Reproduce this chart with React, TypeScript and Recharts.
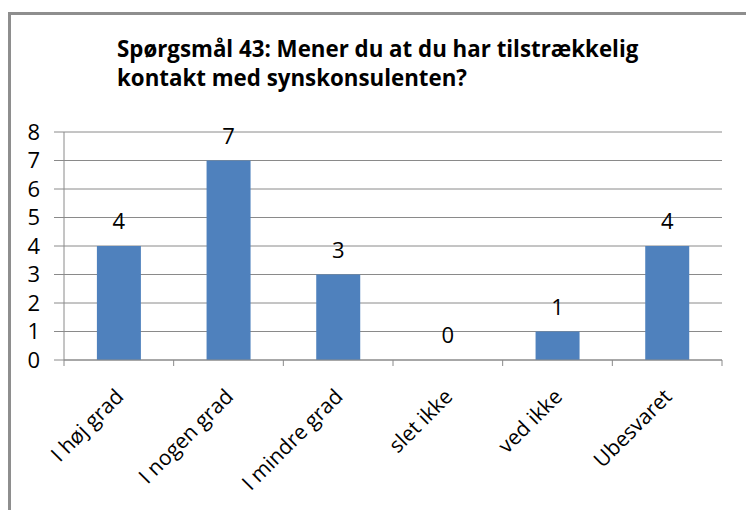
import React from "react";
import { Bar, BarChart, CartesianGrid, LabelList, XAxis, YAxis } from "recharts";

// Spørgsmål 43 – svarfordeling
const categories = ["I høj grad", "I nogen grad", "I mindre grad", "slet ikke", "ved ikke", "Ubesvaret"];
const counts = [4, 7, 3, 0, 1, 4];
const yTicks = [0, 1, 2, 3, 4, 5, 6, 7, 8];

const data = categories.map((name, i) => ({ name, value: counts[i] }));

const FONT = "'Open Sans', Lato, sans-serif";
const GRID = "#8a8a8a";
const BAR = "#4f81bd";

// x-akse: vinklet tekst + tickmærker på kategorigrænserne (som i Excel)
function CategoryTick(props: any) {
  const { x, y, payload, index, visibleTicksCount } = props;
  const half = payload.offset || 0;
  const isLast = index === visibleTicksCount - 1;
  return (
    <g>
      <line x1={x - half} x2={x - half} y1={y - 8} y2={y - 2} stroke={GRID} />
      {isLast && <line x1={x + half} x2={x + half} y1={y - 8} y2={y - 2} stroke={GRID} />}
      <text
        x={0}
        y={0}
        transform={`translate(${x + 6}, ${y + 30}) rotate(-45)`}
        textAnchor="end"
        fontSize={21}
        fontFamily={FONT}
        fill="#000"
      >
        {payload.value}
      </text>
    </g>
  );
}

// værdietiket over søjlen, også når værdien er 0
function ValueLabel(props: any) {
  const { x, y, width, value } = props;
  return (
    <text x={x + width / 2} y={y - 17} textAnchor="middle" fontSize={22} fontFamily={FONT} fill="#000">
      {value}
    </text>
  );
}

export default function App() {
  return (
    <div style={{ position: "absolute", left: 0, top: 0, width: 746, height: 510, background: "#fff", overflow: "hidden" }}>
      <div
        style={{
          position: "absolute",
          left: 8,
          top: 12,
          width: 800,
          height: 600,
          border: "3px solid #8e8e8e",
        }}
      />
      <div
        style={{
          position: "absolute",
          left: 117,
          top: 34,
          fontFamily: FONT,
          fontWeight: 700,
          fontSize: 22.3,
          lineHeight: "29px",
          color: "#000",
          whiteSpace: "nowrap",
        }}
      >
        Spørgsmål 43: Mener du at du har tilstrækkelig
        <br />
        kontakt med synskonsulenten?
      </div>
      <div style={{ position: "absolute", left: 0, top: 0 }}>
        <BarChart
          width={746}
          height={510}
          data={data}
          margin={{ top: 132, right: 24, bottom: 50, left: 34 }}
          barCategoryGap="30%"
        >
          <CartesianGrid vertical={false} stroke={GRID} />
          <XAxis
            dataKey="name"
            height={100}
            axisLine={{ stroke: GRID }}
            tickLine={false}
            interval={0}
            tick={<CategoryTick />}
          />
          <YAxis
            width={30}
            domain={[0, 8]}
            ticks={yTicks}
            interval={0}
            tickSize={10}
            tickMargin={14}
            axisLine={{ stroke: GRID }}
            tickLine={{ stroke: GRID }}
            tick={{ fontSize: 22, fontFamily: FONT, fill: "#000" }}
          />
          <Bar dataKey="value" fill={BAR} isAnimationActive={false} minPointSize={0.01}>
            <LabelList dataKey="value" content={<ValueLabel />} />
          </Bar>
        </BarChart>
      </div>
    </div>
  );
}
